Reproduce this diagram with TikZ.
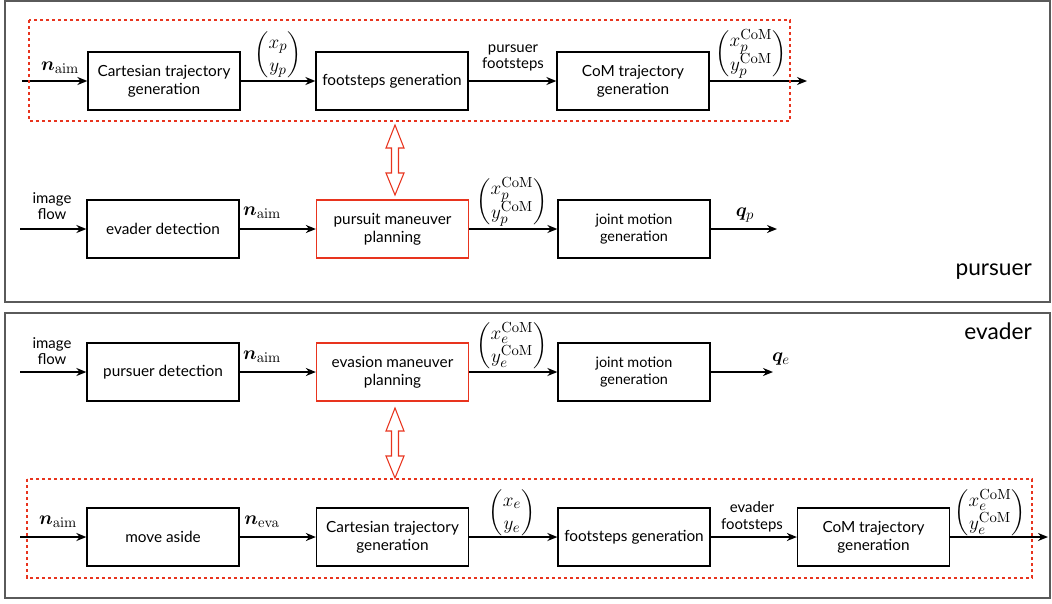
\documentclass[tikz,border=0pt]{standalone}
\usepackage[no-math]{fontspec}
\setmainfont{Lato}
\usepackage{amsmath,bm}
\usetikzlibrary{arrows.meta}
\definecolor{myred}{RGB}{232,52,30}
\definecolor{framegray}{RGB}{90,90,90}
\begin{document}
\begin{tikzpicture}[x=0.75pt,y=-0.75pt,
  box/.style={draw, line width=0.95pt, minimum width=114pt, minimum height=43.5pt, align=center, inner sep=2pt, font=\fontsize{11.5}{13.5}\selectfont},
  smallbox/.style={box, font=\fontsize{10.8}{12.8}\selectfont},
  redbox/.style={box, draw=myred},
  flow/.style={-{Stealth[length=7.5pt,width=6pt]}, line width=1.4pt},
  lab/.style={font=\fontsize{11.2}{12.5}\selectfont, align=center, inner sep=1pt},
  mlab/.style={font=\fontsize{15}{17.5}\selectfont, inner sep=1pt},
  title/.style={font=\fontsize{17}{20}\selectfont, anchor=east, inner sep=0pt},
  frame/.style={draw=framegray, line width=0.8pt},
  dashbox/.style={draw=myred, dash pattern=on 2.5pt off 2pt, line width=0.9pt},
  dbl/.style={draw=myred, fill=white, line width=0.8pt, line join=miter}
]
\useasboundingbox (0,0) rectangle (1052,603);

% ---------- frames ----------
\draw[frame] (5,1) rectangle (1050,302);
\draw[frame] (5,313) rectangle (1050,598);
\node[title] (tp) at (1032,272) {pursuer};
\node[title] (te) at (1032,331) {evader};

% ---------- pursuer, row 1 ----------
\coordinate (pin) at (22,81);
\node[box] (p1) at (164,81) {Cartesian trajectory\\generation};
\node[box] (p2) at (392,81) {footsteps generation};
\node[box] (p3) at (633,81) {CoM trajectory\\generation};
\coordinate (pout) at (807,81);
\draw[flow] (pin) -- (p1);
\draw[flow] (p1) -- (p2);
\draw[flow] (p2) -- (p3);
\draw[flow] (p3) -- (pout);
\node[mlab] (lp1) at (60,68) {$\bm{n}_{\mathrm{aim}}$};
\node[mlab] (lp2) at (278,55) {$\begin{pmatrix}x_p\\y_p\end{pmatrix}$};
\node[lab] (lp3) at (513,58) {pursuer\\footsteps};
\node[mlab] (lp4) at (751,54) {$\begin{pmatrix}x_p^{\mathrm{CoM}}\\y_p^{\mathrm{CoM}}\end{pmatrix}$};
\draw[dashbox] (29,20) rectangle (790,121);

% ---------- pursuer, row 2 ----------
\coordinate (qin) at (20,229);
\node[box] (q1) at (163,229) {evader detection};
\node[redbox] (q2) at (392.5,229) {pursuit maneuver\\planning};
\node[smallbox] (q3) at (634,229) {joint motion\\generation};
\coordinate (qout) at (777,229);
\draw[flow] (qin) -- (q1);
\draw[flow] (q1) -- (q2);
\draw[flow] (q2) -- (q3);
\draw[flow] (q3) -- (qout);
\node[lab] (lq0) at (52,206) {image\\flow};
\node[mlab] (lq1) at (262,213) {$\bm{n}_{\mathrm{aim}}$};
\node[mlab] (lq2) at (512,202) {$\begin{pmatrix}x_p^{\mathrm{CoM}}\\y_p^{\mathrm{CoM}}\end{pmatrix}$};
\node[mlab] (lq3) at (745,215) {$\bm{q}_{p}$};

% double arrow (pursuer)
\draw[dbl] (395,125) -- (404,148) -- (398.5,148) -- (398.5,173) -- (404,173) -- (395,195)
  -- (386,173) -- (391.5,173) -- (391.5,148) -- (386,148) -- cycle;

% ---------- evader, row 1 ----------
\coordinate (ein) at (20,372);
\node[box] (e1) at (163,372) {pursuer detection};
\node[redbox] (e2) at (392.5,372) {evasion maneuver\\planning};
\node[smallbox] (e3) at (634,372) {joint motion\\generation};
\coordinate (eout) at (773,372);
\draw[flow] (ein) -- (e1);
\draw[flow] (e1) -- (e2);
\draw[flow] (e2) -- (e3);
\draw[flow] (e3) -- (eout);
\node[lab] (le0) at (52,351) {image\\flow};
\node[mlab] (le1) at (262,357) {$\bm{n}_{\mathrm{aim}}$};
\node[mlab] (le2) at (512,346) {$\begin{pmatrix}x_e^{\mathrm{CoM}}\\y_e^{\mathrm{CoM}}\end{pmatrix}$};
\node[mlab] (le3) at (781,359) {$\bm{q}_{e}$};

% double arrow (evader)
\draw[dbl] (395,408) -- (404,431) -- (398.5,431) -- (398.5,456) -- (404,456) -- (395,478)
  -- (386,456) -- (391.5,456) -- (391.5,431) -- (386,431) -- cycle;

% ---------- evader, row 2 ----------
\coordinate (fin) at (20,537);
\node[box] (f1) at (163,537) {move aside};
\node[box] (f2) at (392.5,537) {Cartesian trajectory\\generation};
\node[box] (f3) at (634,537) {footsteps generation};
\node[box] (f4) at (873.5,537) {CoM trajectory\\generation};
\coordinate (fout) at (1048,537);
\draw[flow] (fin) -- (f1);
\draw[flow] (f1) -- (f2);
\draw[flow] (f2) -- (f3);
\draw[flow] (f3) -- (f4);
\draw[flow] (f4) -- (fout);
\node[mlab] (lf1) at (58,522) {$\bm{n}_{\mathrm{aim}}$};
\node[mlab] (lf2) at (262,522) {$\bm{n}_{\mathrm{eva}}$};
\node[mlab] (lf3) at (512,513) {$\begin{pmatrix}x_e\\y_e\end{pmatrix}$};
\node[lab] (lf4) at (752,517) {evader\\footsteps};
\node[mlab] (lf5) at (990,513) {$\begin{pmatrix}x_e^{\mathrm{CoM}}\\y_e^{\mathrm{CoM}}\end{pmatrix}$};
\draw[dashbox] (27,479) rectangle (1032,578);
\end{tikzpicture}
\end{document}
